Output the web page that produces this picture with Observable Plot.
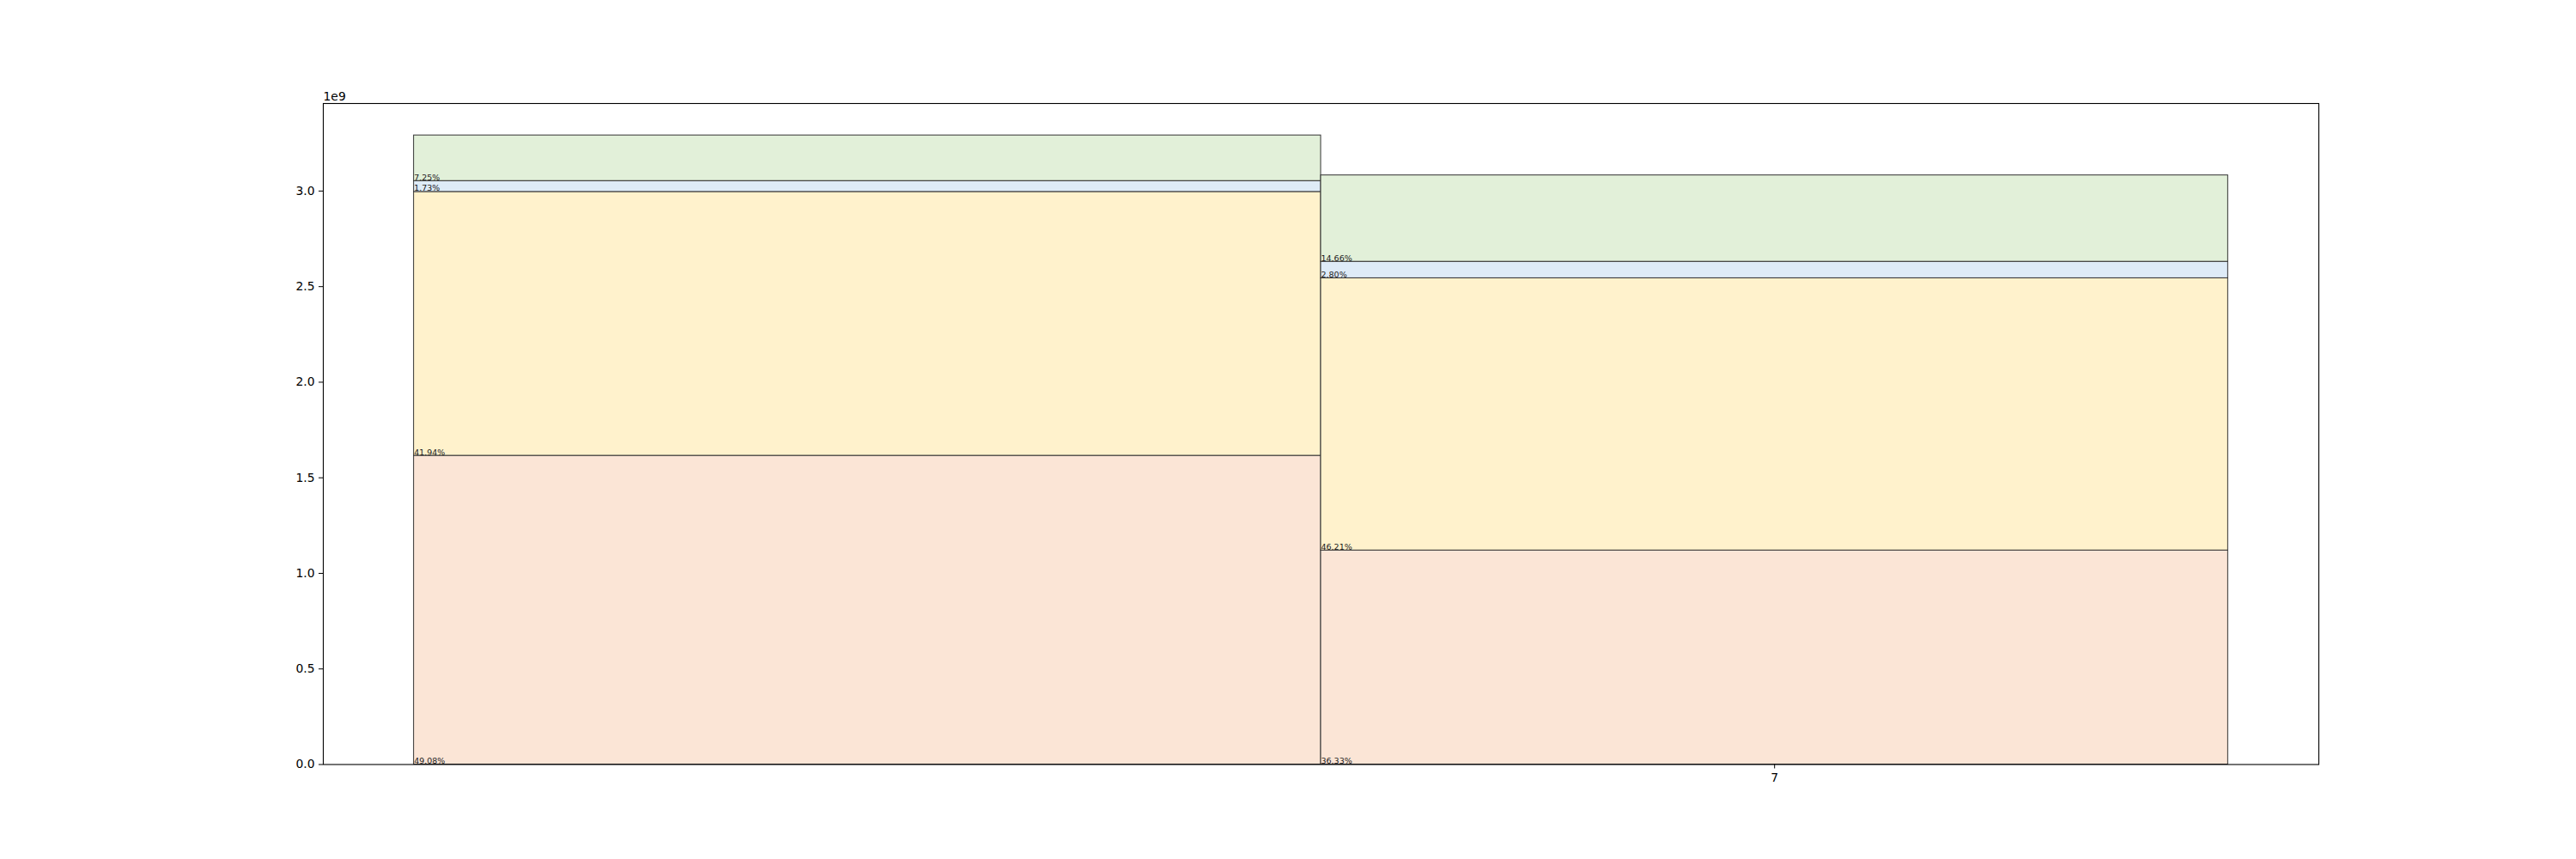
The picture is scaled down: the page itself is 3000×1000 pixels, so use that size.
<!DOCTYPE html>
<html>
<head>
<meta charset="utf-8">
<script src="https://cdn.jsdelivr.net/npm/d3@7"></script>
<script src="https://cdn.jsdelivr.net/npm/@observablehq/plot@0.6"></script>
<style>
  html, body { margin: 0; padding: 0; background: white; }
  #chart svg { display: block; }
</style>
</head>
<body>
<div id="chart"></div>
<script>
// ---- data ----
const barStart = [5.5, 6.5];          // left edge of each bar (x data units)
const barWidth = [1, 1];              // width of each bar
const totals = [3.291e9, 3.082e9];    // bar totals
const segNames = ["s1", "s2", "s3", "s4"];
const segColors = ["#FBE5D6", "#FFF2CC", "#DEEBF7", "#E2F0D9"];
const seg1 = [49.08, 36.33];          // percent shares, bottom segment
const seg2 = [41.94, 46.21];
const seg3 = [1.73, 2.80];
const seg4 = [7.25, 14.66];           // top segment
const xTicks = [7];
const yTicks = [0, 0.5e9, 1e9, 1.5e9, 2e9, 2.5e9, 3e9];

// ---- build table ----
const segs = [seg1, seg2, seg3, seg4];
const rows = [];
barStart.forEach((x0, i) => {
  let acc = 0;
  segs.forEach((s, k) => {
    const v = totals[i] * s[i] / 100;
    rows.push({
      x1: x0, x2: x0 + barWidth[i],
      y1: acc, y2: acc + v,
      seg: segNames[k],
      label: s[i].toFixed(2) + "%"
    });
    acc += v;
  });
});

const chart = Plot.plot({
  width: 3000,
  height: 1000,
  marginLeft: 376,
  marginRight: 300,
  marginTop: 120,
  marginBottom: 110.5,
  style: { fontFamily: "DejaVu Sans", fontSize: "13.9px", background: "white", color: "black" },
  x: { domain: [5.4, 7.6] },
  y: { domain: [0, 3.458e9] },
  color: { domain: segNames, range: segColors },
  marks: [
    Plot.rect(rows, { x1: "x1", x2: "x2", y1: "y1", y2: "y2", fill: "seg", stroke: "#333", strokeWidth: 1 }),
    Plot.text(rows, { x: "x1", y: "y1", text: "label", textAnchor: "start", lineAnchor: "bottom", dy: -1, fontSize: 9.5, fill: "#222" }),
    Plot.frame({ stroke: "black", strokeWidth: 1.1 }),
    Plot.axisY({ ticks: yTicks, tickFormat: d => (d / 1e9).toFixed(1), tickSize: 5, tickPadding: 5, label: null, fontSize: 13.9 }),
    Plot.axisX({ ticks: xTicks, tickFormat: d => String(d), tickSize: 5, tickPadding: 5, label: null, fontSize: 13.9 }),
    Plot.text(["1e9"], { frameAnchor: "top-left", text: d => d, textAnchor: "start", lineAnchor: "bottom", dy: -4, fontSize: 13.9, fill: "black" })
  ]
});
document.getElementById("chart").appendChild(chart);
</script>
</body>
</html>
